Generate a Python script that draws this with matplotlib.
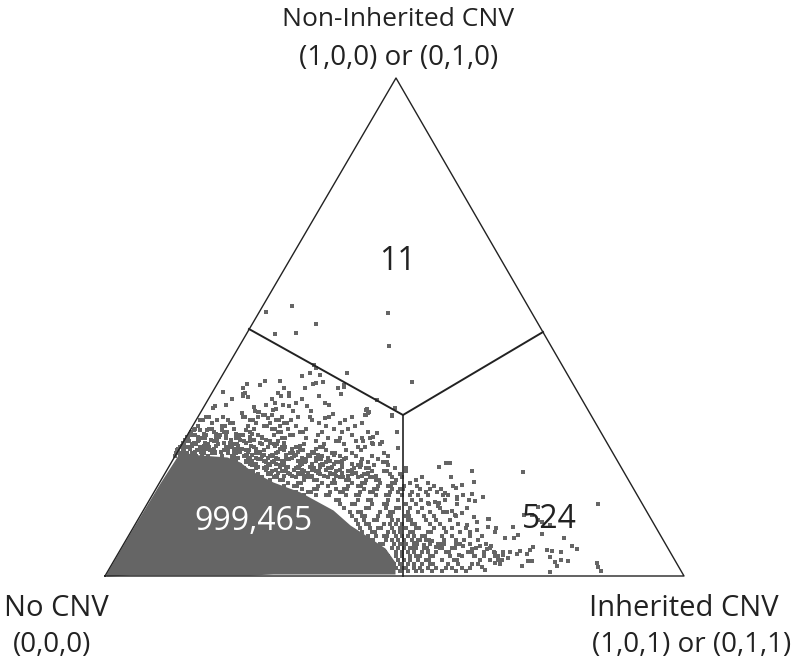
import matplotlib
matplotlib.use('Agg')
import matplotlib.pyplot as plt

# all values, in image pixels
triangle_x = [105, 396, 684, 105]
triangle_y = [576, 78, 576, 576]
split_x = [249, 403, 543]
split_y = [329, 415, 332]
stem_x = [403, 403]
stem_y = [415, 576]

# solid part of the cloud, outline only
core_x = [106, 130, 160, 180, 200, 227, 240, 250, 273, 300, 333, 350, 370, 385, 395]
core_top = [574, 533, 483, 452, 455, 457, 462, 470, 482, 492, 510, 525, 538, 548, 562]
core_bottom = [576, 575, 575, 575, 575, 575, 575, 575, 574, 574, 574, 574, 574, 574, 574]

# sparse points near the apex split and upper cloud
upper_x = [292, 266, 316, 296, 275, 388, 389, 347, 412, 314, 316, 310, 302, 320, 323, 316, 313, 305,
           338, 344, 344, 341, 319, 302, 325, 329, 377, 395, 367, 369, 366, 392, 333, 329, 325, 311,
           307, 296, 289, 293, 283, 275, 276, 266, 272, 289, 289, 284, 278, 281, 280, 265, 260, 247,
           243, 243, 245, 243, 248, 254, 255, 258, 265, 272, 268, 242, 223, 232, 226, 215, 213, 259,
           263, 273, 366, 368, 365, 395, 392, 397, 398, 377, 373, 370, 363, 382, 380, 372, 388, 361]
upper_y = [306, 312, 324, 333, 334, 313, 346, 373, 382, 365, 368, 373, 376, 375, 382, 383, 384, 388,
           388, 385, 387, 394, 396, 399, 403, 405, 400, 408, 409, 412, 415, 416, 414, 417, 418, 411,
           406, 403, 406, 411, 405, 403, 409, 405, 399, 393, 396, 388, 393, 396, 381, 381, 385, 384,
           388, 394, 393, 396, 397, 407, 411, 412, 415, 415, 418, 413, 392, 399, 405, 406, 408, 412,
           415, 410, 410, 413, 415, 408, 415, 432, 448, 433, 437, 438, 441, 442, 444, 443, 456, 462]

# rows of the speckled band above and right of the core
row_y = [417, 420, 423, 426, 429, 432, 435, 438, 441, 444, 447, 450, 453, 456, 459, 462, 465, 468,
         471, 474, 477, 480, 483, 486, 489, 492, 495]
row_x = [
    [206, 209, 223, 243, 245, 258, 282, 298, 310, 352],
    [200, 203, 217, 228, 250, 253, 276, 279, 291, 312, 345],
    [212, 230, 233, 256, 270, 284, 287, 319, 340, 362],
    [198, 222, 225, 248, 264, 267, 280, 296, 326, 355],
    [195, 209, 212, 234, 254, 272, 275, 288, 306, 334, 348],
    [191, 214, 224, 227, 250, 278, 281, 300, 303, 322, 342, 368],
    [192, 195, 206, 220, 240, 243, 258, 274, 290, 293, 318, 352],
    [188, 202, 205, 226, 236, 239, 262, 282, 285, 306, 328, 340, 362],
    [186, 189, 198, 214, 217, 244, 250, 270, 278, 316, 336, 339, 356],
    [184, 192, 196, 208, 218, 234, 237, 262, 274, 277, 304, 324, 344, 373],
    [180, 186, 189, 200, 206, 209, 226, 232, 254, 268, 282, 285, 296, 320, 323, 358, 365],
    [177, 183, 197, 203, 210, 224, 227, 238, 246, 249, 264, 284, 300, 303, 326, 346, 361],
    [176, 181, 187, 192, 204, 212, 215, 228, 236, 256, 259, 276, 290, 293, 314, 332, 335, 352, 384],
    [175, 180, 186, 191, 196, 202, 208, 222, 232, 244, 247, 262, 270, 273, 294, 310, 322, 340, 356, 372],
    [232, 235, 248, 258, 261, 278, 286, 289, 306, 318, 321, 344, 362, 378],
    [236, 246, 249, 266, 272, 284, 302, 305, 326, 336, 339, 368, 383, 387],
    [240, 252, 255, 270, 280, 283, 300, 320, 323, 342, 358, 361, 374, 388],
    [244, 256, 264, 267, 286, 296, 299, 314, 328, 331, 354, 366, 369, 395, 406],
    [250, 253, 272, 282, 285, 304, 316, 319, 336, 348, 351, 372, 384, 387, 406],
    [258, 268, 271, 290, 300, 303, 320, 332, 335, 352, 364, 367, 390, 400],
    [262, 274, 277, 296, 308, 311, 328, 340, 343, 358, 370, 373, 392, 402, 422],
    [270, 280, 283, 304, 314, 317, 334, 346, 349, 366, 376, 379, 396, 416],
    [288, 298, 301, 322, 332, 335, 352, 362, 365, 380, 392, 395, 410, 428],
    [284, 294, 297, 318, 328, 348, 358, 361, 378, 388, 391, 404, 417, 434],
    [302, 314, 317, 336, 344, 347, 364, 374, 377, 392, 400, 403, 420, 430, 441],
    [296, 308, 311, 330, 340, 343, 360, 370, 373, 390, 398, 412, 426, 437],
    [304, 316, 326, 329, 346, 356, 359, 376, 386, 389, 402, 410, 418, 428, 448],
]

# extra points where the band thickens just above the core
thick_y = [430, 434, 437, 440, 443, 446, 449, 452, 455, 458, 461, 464, 467, 470, 473, 476]
thick_x = [
    [194, 200, 207, 222, 246],
    [190, 204, 216, 226, 236, 252],
    [187, 198, 216, 219, 236, 250, 262],
    [185, 199, 211, 231, 240, 254, 266],
    [183, 194, 205, 224, 230, 246, 260, 270, 284],
    [182, 192, 204, 216, 230, 238, 251, 275, 300],
    [178, 184, 190, 201, 207, 214, 228, 234, 242, 256, 280, 292, 316],
    [178, 183, 195, 201, 215, 221, 234, 240, 248, 260, 278, 298, 312],
    [234, 246, 252, 264, 272, 286, 296, 308, 318, 334],
    [232, 238, 250, 256, 268, 276, 292, 302, 316, 328, 346],
    [246, 252, 264, 274, 282, 298, 306, 316, 330, 342],
    [250, 256, 268, 276, 284, 302, 312, 322, 334, 352],
    [258, 266, 280, 288, 298, 310, 320, 332, 342, 360],
    [266, 276, 286, 294, 302, 312, 326, 340, 352],
    [270, 278, 288, 298, 308, 318, 330, 342, 356, 368],
    [276, 284, 292, 304, 312, 324, 336, 348, 362, 376],
]

# right side cloud, thinning out towards the corner
right_x = [439, 446, 450, 472, 523, 451, 474, 462, 453, 456, 445, 443, 472, 483, 463, 457, 457, 469,
           475, 445, 435, 439, 438, 457, 428, 598, 538, 467, 462, 455, 452, 443, 532, 538, 542, 550,
           542, 524, 474, 488, 489, 477, 467, 488, 496, 477, 470, 495, 513, 518, 514, 505, 564, 572,
           577, 547, 552, 561, 550, 561, 568, 555, 557, 597, 598, 601, 550, 532, 528, 522, 485, 482,
           533, 530, 527, 520, 517, 510, 503, 503, 508, 495, 495, 498, 500, 495, 491, 487, 484, 480,
           475, 472, 468, 463, 459, 456, 452, 448, 444, 440, 436, 432, 428, 424, 420, 416, 412, 408]
right_y = [467, 463, 463, 471, 472, 477, 482, 485, 486, 488, 493, 495, 494, 497, 495, 497, 499, 500,
           501, 500, 502, 503, 506, 504, 503, 504, 507, 508, 513, 515, 511, 512, 515, 520, 522, 525,
           534, 515, 517, 519, 519, 522, 525, 527, 528, 530, 532, 532, 527, 535, 538, 538, 538, 546,
           549, 550, 551, 552, 557, 560, 561, 562, 566, 563, 567, 571, 572, 561, 561, 566, 570, 567,
           547, 550, 554, 551, 554, 552, 552, 555, 558, 553, 556, 560, 563, 563, 546, 549, 552, 546,
           556, 549, 552, 546, 555, 544, 548, 552, 544, 548, 547, 541, 551, 545, 540, 543, 548, 552]

# lower cluster either side of the stem
lower_y = [500, 504, 508, 512, 516, 520, 524, 528, 532, 536, 540, 544, 548, 552, 556, 560, 564, 568, 571]
lower_x = [
    [336, 339, 358, 368, 371, 388, 398, 412, 421],
    [340, 352, 355, 372, 384, 387, 406, 416, 429],
    [344, 366, 369, 386, 396, 399, 410, 422, 440],
    [350, 358, 361, 380, 390, 393, 408, 418, 430, 447],
    [352, 362, 365, 378, 388, 391, 406, 409, 424, 434, 456],
    [356, 364, 374, 377, 392, 398, 408, 411, 426, 436, 450],
    [358, 366, 369, 384, 390, 396, 402, 412, 415, 430, 440, 458],
    [360, 370, 378, 381, 392, 400, 406, 416, 419, 434, 444, 452, 466],
    [362, 372, 375, 388, 394, 400, 410, 413, 428, 431, 446, 460],
    [358, 368, 376, 384, 387, 396, 402, 408, 414, 422, 425, 442, 452, 470, 482],
    [360, 370, 373, 386, 392, 398, 404, 412, 418, 426, 429, 444, 456, 464, 478],
    [362, 372, 380, 383, 394, 400, 406, 414, 417, 430, 438, 441, 460, 470, 486],
    [366, 376, 379, 392, 398, 404, 410, 416, 424, 427, 442, 452, 455, 476, 490],
    [364, 374, 382, 385, 396, 402, 408, 414, 422, 428, 436, 446, 449, 472, 494],
    [372, 380, 388, 396, 402, 410, 416, 420, 430, 433, 450, 462, 474, 484, 498],
    [376, 384, 387, 398, 404, 410, 418, 426, 429, 442, 454, 457, 480, 490, 502],
    [380, 388, 394, 400, 408, 414, 422, 430, 433, 448, 458, 472, 478, 500],
    [388, 396, 402, 406, 414, 420, 428, 436, 446, 452, 462, 470],
    [392, 400, 408, 416, 422, 432, 442, 456, 466],
]

plt.rcParams['font.family'] = ['Open Sans', 'DejaVu Sans']

fig = plt.figure(figsize=(8, 6.67), dpi=100)
ax = fig.add_axes([0, 0, 1, 1])
ax.set_xlim(0, 800)
ax.set_ylim(667, 0)
ax.axis('off')

grey = '#656565'
dot = dict(s=6.5, marker='s', color=grey, linewidths=0, zorder=2)
ax.fill_between(core_x, core_top, core_bottom, color=grey, lw=0, zorder=2)
ax.scatter(upper_x, upper_y, **dot)
for y, xs in zip(row_y, row_x):
    ax.scatter(xs, [y] * len(xs), **dot)
for y, xs in zip(thick_y, thick_x):
    ax.scatter(xs, [y] * len(xs), **dot)
for y, xs in zip(lower_y, lower_x):
    ax.scatter(xs, [y] * len(xs), **dot)
ax.scatter(right_x, right_y, **dot)

ax.plot(triangle_x, triangle_y, color='#222222', lw=1.0, zorder=3)
ax.plot(split_x, split_y, color='#222222', lw=1.4, zorder=3)
ax.plot(stem_x, stem_y, color='#222222', lw=1.2, zorder=3)

ax.text(397, 262, '11', fontsize=23, color='#222222', ha='center', va='center', zorder=4)
ax.text(253, 522, '999,465', fontsize=23, color='white', ha='center', va='center', zorder=4)
ax.text(549, 519, '524', fontsize=23, color='#222222', ha='center', va='center', zorder=4)

ax.text(398, 20, 'Non-Inherited CNV', fontsize=19, color='#222222', ha='center', va='center')
ax.text(399, 58, '(1,0,0) or (0,1,0)', fontsize=20, color='#222222', ha='center', va='center')
ax.text(56, 608, 'No CNV', fontsize=21, color='#222222', ha='center', va='center')
ax.text(52, 645, '(0,0,0)', fontsize=20, color='#222222', ha='center', va='center')
ax.text(684, 609, 'Inherited CNV', fontsize=21, color='#222222', ha='center', va='center')
ax.text(692, 645, '(1,0,1) or (0,1,1)', fontsize=20, color='#222222', ha='center', va='center')

fig.savefig('out.png', dpi=100)
